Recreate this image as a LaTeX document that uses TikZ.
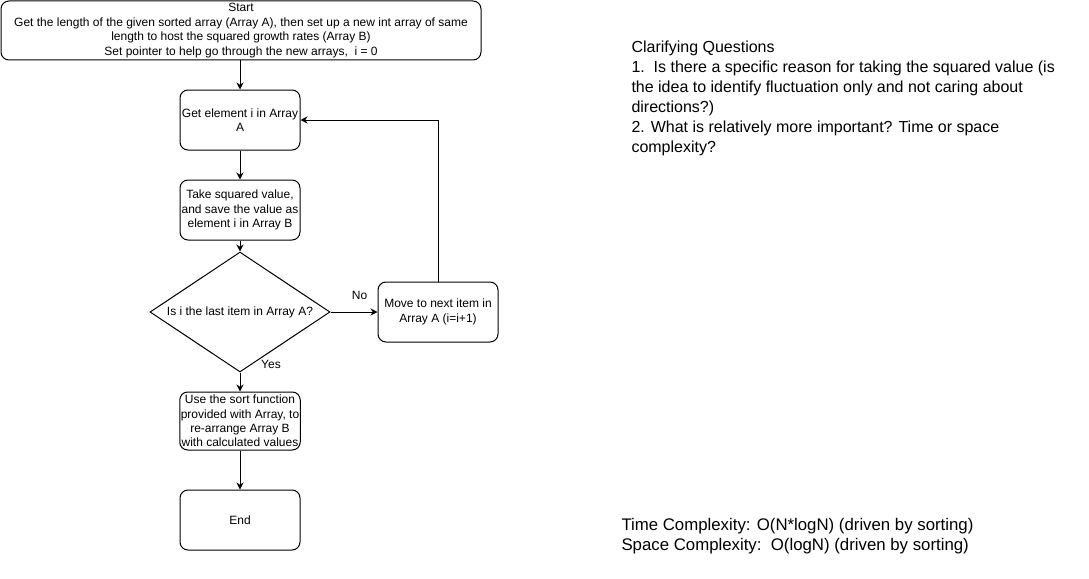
\documentclass[tikz,border=0pt]{standalone}
\usepackage{fontspec}
\setmainfont{Liberation Sans}
\usetikzlibrary{shapes.geometric,arrows.meta}

\begin{document}
\begin{tikzpicture}[x=1pt,y=-1pt,line width=1pt]
    \useasboundingbox (0,0) rectangle (1089,578);

    \tikzstyle{box} = [draw, rounded corners=8pt, align=center, font=\fontsize{12}{14.4}\selectfont, inner sep=1pt, minimum width=120pt, minimum height=60pt]
    \tikzstyle{dec} = [draw, diamond, aspect=1.5, inner sep=0pt, minimum width=180pt, minimum height=120pt, font=\fontsize{12}{14.4}\selectfont]
    \tikzstyle{flow} = [-{Stealth[length=7pt,width=7pt]}]
    \tikzstyle{lbl} = [font=\fontsize{12}{14.4}\selectfont, inner sep=0pt]
    \tikzstyle{note} = [anchor=north west, align=left, font=\fontsize{16}{20}\selectfont, inner sep=0pt]

    \node[box, minimum width=480pt, minimum height=59pt] (st) at (241,30.5) {Start\\Get the length of the given sorted array (Array A), then set up a new int array of same\\length to host the squared growth rates (Array B)\\Set pointer to help go through the new arrays,\ \ i = 0};
    \node[box] (ga) at (240,120) {Get element i in Array\\A};
    \node[box] (sq) at (240,210) {Take squared value,\\and save the value as\\element i in Array B};
    \node[dec] (dq) at (240,312) {Is i the last item in Array A?};
    \node[box] (mv) at (438,312) {Move to next item in\\Array A (i=i+1)};
    \node[box, minimum height=58pt] (so) at (240,421) {Use the sort function\\provided with Array, to\\re-arrange Array B\\with calculated values};
    \node[box] (en) at (240,520) {End};

    \foreach \a/\b in {st/ga, ga/sq, sq/dq, so/en} {
        \draw[flow] (\b.north |- \a.south) -- (\b.north);
    }
    \draw[flow] (dq.east) -- node[lbl, pos=0.62, yshift=17pt] {No} (mv.west);
    \draw[flow] (dq.south) -- node[lbl, pos=0, xshift=31pt, yshift=8pt] {Yes} (so.north);
    \draw[flow] (mv.north) |- (ga.east);

    % notes on the right
    \node[note] (cq) at (631,40) {Clarifying Questions\\1.\ \ Is there a specific reason for taking the squared value (is\\the idea to identify fluctuation only and not caring about\\directions?)\\2. What is relatively more important? Time or space\\complexity?};
    \node[note, font=\fontsize{16.8}{20}\selectfont] (cx) at (621,518) {Time Complexity: O(N*logN) (driven by sorting)\\Space Complexity:\ \ O(logN) (driven by sorting)};
\end{tikzpicture}
\end{document}
